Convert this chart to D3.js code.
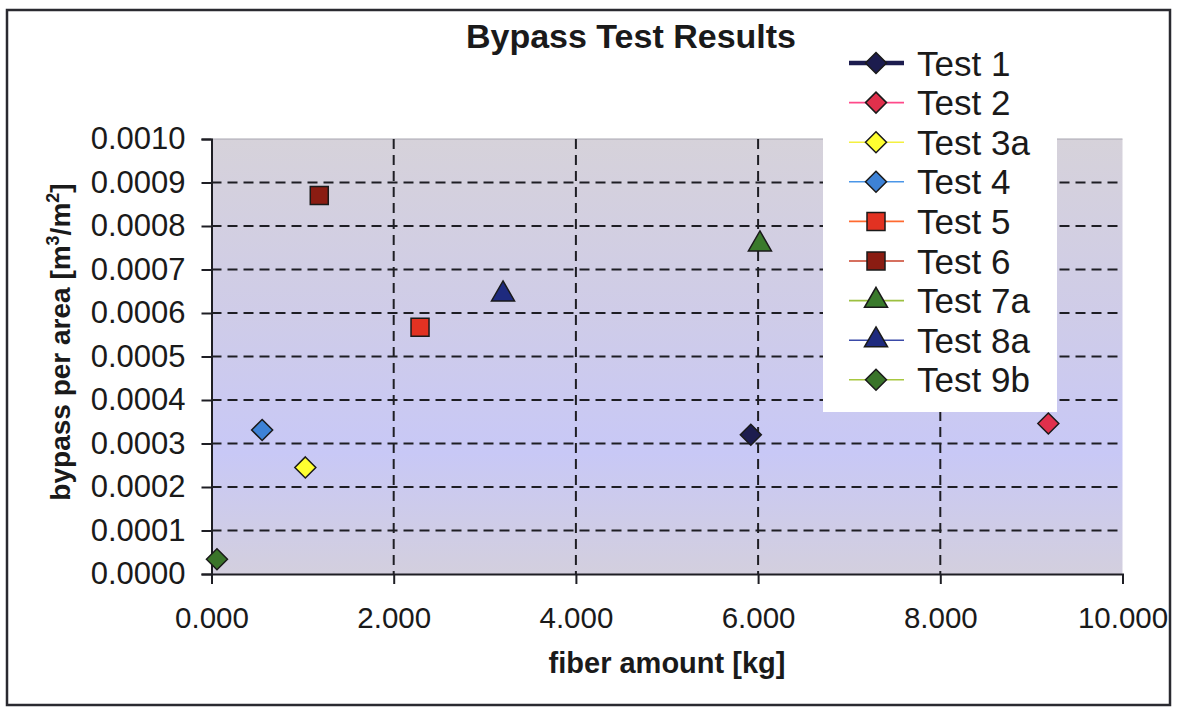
<!DOCTYPE html>
<html>
<head>
<meta charset="utf-8">
<script src="https://cdn.jsdelivr.net/npm/d3@7"></script>
<style>
  html, body { margin: 0; padding: 0; background: #ffffff; }
  svg { display: block; font-family: "Liberation Sans", Arial, sans-serif; }
</style>
</head>
<body>
<svg id="chart" width="1178" height="711"></svg>
<script>
// Series: one measured point per test
const tests = ["Test 1", "Test 2", "Test 3a", "Test 4", "Test 5", "Test 6", "Test 7a", "Test 8a", "Test 9b"];
const fiberKg = [5.920, 9.186, 1.030, 0.556, 2.289, 1.183, 6.020, 3.200, 0.060];
const bypassPerArea = [0.000320, 0.000346, 0.000245, 0.000331, 0.000567, 0.000870, 0.000758, 0.000643, 0.000034];
const markerShapes = ["diamond", "diamond", "diamond", "diamond", "square", "square", "triangle", "triangle", "diamond"];
const markerFills = ["#1c1c4e", "#e0304c", "#ffff30", "#3d82d6", "#e23222", "#8a1c12", "#3a7a2c", "#1e2a7e", "#3a742a"];
const legendLineColors = ["#1c1c4e", "#ff4a8a", "#f4f040", "#4a96e8", "#ff6a30", "#c8402a", "#9cc040", "#3a4aa8", "#a8c840"];

// Axis ticks
const xTicks = [0, 2, 4, 6, 8, 10];
const yTicks = [0, 0.0001, 0.0002, 0.0003, 0.0004, 0.0005, 0.0006, 0.0007, 0.0008, 0.0009, 0.0010];

const svg = d3.select("#chart");
const plot = { left: 211.5, right: 1122.5, top: 139, bottom: 574 };

const x = d3.scaleLinear().domain([0, 10]).range([plot.left, plot.right]);
const y = d3.scaleLinear().domain([0, 0.001]).range([plot.bottom, plot.top]);

// Plot area fill: grey at the edges, lavender through the middle
const defs = svg.append("defs");
const grad = defs.append("linearGradient")
  .attr("id", "plotBg").attr("x1", 0).attr("y1", 0).attr("x2", 0).attr("y2", 1);
[["0%", "#d6d2da"], ["40%", "#cfcce8"], ["72%", "#c8c8f6"], ["100%", "#d3cfde"]]
  .forEach(([o, c]) => grad.append("stop").attr("offset", o).attr("stop-color", c));

svg.append("rect")
  .attr("x", plot.left).attr("y", plot.top)
  .attr("width", plot.right - plot.left).attr("height", plot.bottom - plot.top)
  .attr("fill", "url(#plotBg)");

svg.append("line")
  .attr("x1", plot.left).attr("x2", plot.right)
  .attr("y1", plot.top).attr("y2", plot.top)
  .attr("stroke", "#a8a6b0").attr("stroke-width", 1);

// Dashed gridlines
const grid = svg.append("g").attr("stroke", "#1e1e24").attr("stroke-width", 2).attr("stroke-dasharray", "10,6");
grid.selectAll("line.h").data(yTicks.filter(v => v > 0 && v < 0.00099)).join("line")
  .attr("x1", plot.left).attr("x2", plot.right)
  .attr("y1", d => y(d)).attr("y2", d => y(d));
grid.selectAll("line.v").data(xTicks.filter(v => v > 0 && v < 10)).join("line")
  .attr("y1", plot.top).attr("y2", plot.bottom)
  .attr("x1", d => x(d)).attr("x2", d => x(d));

// Axes
const yAxis = svg.append("g")
  .attr("transform", `translate(${plot.left},0)`)
  .call(d3.axisLeft(y).tickValues(yTicks).tickFormat(d3.format(".4f")).tickSize(10).tickPadding(16));
const xAxis = svg.append("g")
  .attr("transform", `translate(0,${plot.bottom})`)
  .call(d3.axisBottom(x).tickValues(xTicks).tickFormat(d3.format(".3f")).tickSize(10).tickPadding(23));

[yAxis, xAxis].forEach(g => {
  g.select(".domain").attr("stroke", "#1e1e24").attr("stroke-width", 2);
  g.selectAll(".tick line").attr("stroke", "#1e1e24").attr("stroke-width", 2);
  g.selectAll(".tick text").attr("fill", "#1a1a1a").attr("font-family", "'Liberation Sans', Arial, sans-serif");
});
yAxis.selectAll(".tick text").attr("font-size", 31);
xAxis.selectAll(".tick text").attr("font-size", 29.5);

// Marker shapes
function markerPath(shape) {
  if (shape === "diamond") {
    const r = 10.5;
    return `M0,${-r}L${r},0L0,${r}L${-r},0Z`;
  }
  if (shape === "square") {
    const h = 9;
    return `M${-h},${-h}H${h}V${h}H${-h}Z`;
  }
  return d3.symbol(d3.symbolTriangle, 230)();
}

// Points
svg.append("g").selectAll("path").data(tests).join("path")
  .attr("d", (d, i) => markerPath(markerShapes[i]))
  .attr("transform", (d, i) => `translate(${x(fiberKg[i])},${y(bypassPerArea[i])})`)
  .attr("fill", (d, i) => markerFills[i])
  .attr("stroke", "#1a1a1a").attr("stroke-width", 1.5);

// Titles
svg.append("text")
  .attr("x", 631).attr("y", 48)
  .attr("text-anchor", "middle")
  .attr("font-size", 34).attr("font-weight", "bold").attr("fill", "#1a1a1a")
  .text("Bypass Test Results");

svg.append("text")
  .attr("x", 667).attr("y", 673)
  .attr("text-anchor", "middle")
  .attr("font-size", 29).attr("font-weight", "bold").attr("fill", "#1a1a1a")
  .text("fiber amount [kg]");

const yTitle = svg.append("text")
  .attr("transform", "translate(70,342) rotate(-90)")
  .attr("text-anchor", "middle")
  .attr("font-size", 28).attr("font-weight", "bold").attr("fill", "#1a1a1a");
yTitle.append("tspan").text("bypass per area [m");
yTitle.append("tspan").attr("font-size", 18).attr("dy", -11).text("3");
yTitle.append("tspan").attr("dy", 11).text("/m");
yTitle.append("tspan").attr("font-size", 18).attr("dy", -11).text("2");
yTitle.append("tspan").attr("dy", 11).text("]");

// Legend
const legend = svg.append("g");
legend.append("rect")
  .attr("x", 823).attr("y", 40).attr("width", 234).attr("height", 372)
  .attr("fill", "#ffffff");
const rows = legend.selectAll("g.row").data(tests).join("g")
  .attr("transform", (d, i) => `translate(0,${63 + i * 39.6})`);
rows.append("line")
  .attr("x1", 849).attr("x2", 904).attr("y1", 0).attr("y2", 0)
  .attr("stroke", (d, i) => legendLineColors[i])
  .attr("stroke-width", (d, i) => i === 0 ? 4.5 : 1.6);
rows.append("path")
  .attr("d", (d, i) => markerPath(markerShapes[i]))
  .attr("transform", "translate(876,0)")
  .attr("fill", (d, i) => markerFills[i])
  .attr("stroke", "#1a1a1a").attr("stroke-width", 1.5);
rows.append("text")
  .attr("x", 917).attr("dy", "0.36em")
  .attr("font-size", 35).attr("fill", "#1a1a1a")
  .text(d => d);

// Chart frame
svg.append("rect")
  .attr("x", 7).attr("y", 10).attr("width", 1163).attr("height", 695)
  .attr("fill", "none").attr("stroke", "#2a2a30").attr("stroke-width", 2.5);
</script>
</body>
</html>
